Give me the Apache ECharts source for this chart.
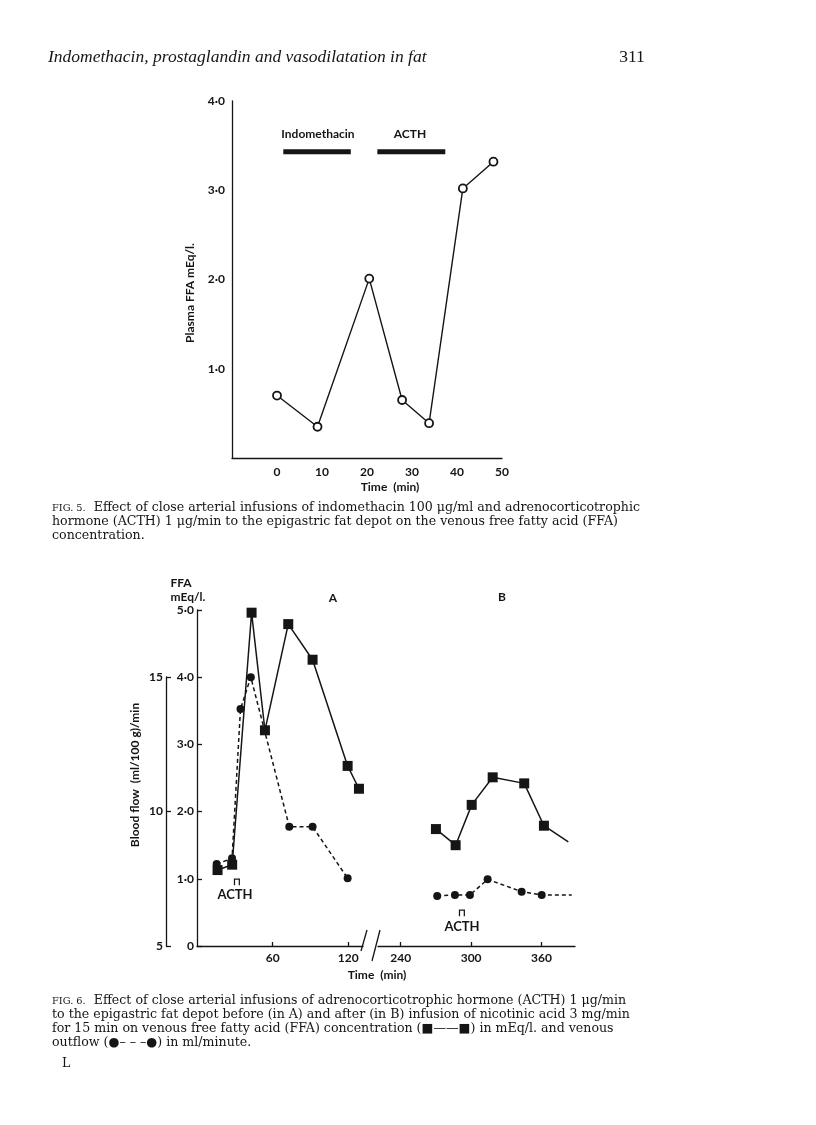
<!DOCTYPE html>
<html>
<head>
<meta charset="utf-8">
<title>Indomethacin, prostaglandin and vasodilatation in fat</title>
<script src="https://cdn.jsdelivr.net/npm/echarts@6/dist/echarts.min.js"></script>
<style>
  html, body { margin: 0; padding: 0; background: #fff; }
  #main { width: 816px; height: 1125px; }
</style>
</head>
<body>
<div id="main"></div>
<script>
// Fig. 5 - plasma FFA (mEq/l.) against time (min)
var fig5Time = [0, 9, 20.5, 27.8, 33.8, 41.3, 48.1];
var fig5FFA = [0.70, 0.35, 2.01, 0.65, 0.39, 3.02, 3.32];
var fig5XTicks = [0, 10, 20, 30, 40, 50];
var fig5YTicks = [1, 2, 3, 4];
// infusion periods, drawn as thick bars
var indoPeriod = [1.4, 16.4];
var acthPeriod = [22.3, 37.4];
var barLevel = 3.43;

// Fig. 6 A - before nicotinic acid
var aSqTime = [16.3, 27.9, 43.3, 53.9, 72.4, 91.7, 119.5, 128.5];
var aFFA = [1.13, 1.21, 4.96, 3.21, 4.79, 4.26, 2.68, 2.34];
var aDotTime = [15.6, 27.8, 34.5, 42.7, 73.2, 91.7, 119.5];
var aFlow = [8.05, 8.26, 13.82, 15.0, 9.44, 9.44, 7.52];
// Fig. 6 B - after nicotinic acid (last value of each trace has no marker)
var bSqTime = [270.0, 286.8, 300.5, 318.4, 345.3, 362.1, 382.9];
var bFFA = [1.74, 1.50, 2.10, 2.51, 2.42, 1.79, 1.55];
var bDotTime = [271.1, 286.2, 299.0, 314.1, 343.1, 360.2, 385.8];
var bFlow = [6.86, 6.90, 6.90, 7.48, 7.02, 6.90, 6.90];
var aXTicks = [60, 120];
var bXTicks = [240, 300, 360];
var flowTicks = [5, 10, 15];

var ink = '#151515';
var sans = 'Lato';
var serif = '"Liberation Serif"';

function pairs(xs, ys, bareLast) {
  return xs.map(function (x, i) {
    if (bareLast && i === xs.length - 1) return { value: [x, ys[i]], symbol: 'none' };
    return [x, ys[i]];
  });
}
function dot(v) {
  return v === 0 ? '0' : v.toFixed(1).replace('.', '·');
}
function txt(x, y, s, size, extra) {
  var o = {
    type: 'text', x: x, y: y, silent: true,
    style: { text: s, fill: ink, font: 'bold ' + size + 'px ' + sans, textAlign: 'center', textVerticalAlign: 'middle' }
  };
  if (extra) for (var k in extra) o[k] = extra[k];
  return o;
}
// caption lines
function cap(x, y, s) {
  return {
    type: 'text', x: x, y: y, silent: true,
    style: {
      text: s, fill: ink, font: '12.6px "DejaVu Serif"', textVerticalAlign: 'middle',
      rich: { sc: { fontSize: 9.8, fontFamily: 'DejaVu Serif' } }
    }
  };
}

var axisLine = { show: true, onZero: false, lineStyle: { color: ink, width: 1.3 } };
var tickLbl = { color: ink, fontFamily: sans, fontWeight: 'bold', fontSize: 12 };

var myChart = echarts.init(document.getElementById('main'));
myChart.setOption({
  backgroundColor: '#fff',
  animation: false,
  grid: [
    { left: 232, top: 101, width: 270, height: 357 },
    { left: 197, top: 610, width: 166, height: 336 },
    { left: 378, top: 610, width: 197, height: 336 },
    { left: 166, top: 677, width: 1, height: 269 }
  ],
  xAxis: [
    { gridIndex: 0, type: 'value', min: -10, max: 50, axisLine: axisLine, axisTick: { show: false },
      axisLabel: Object.assign({ customValues: fig5XTicks, margin: 8 }, tickLbl), splitLine: { show: false } },
    { gridIndex: 1, type: 'value', min: 0, max: 131.7, axisLine: axisLine,
      axisTick: { inside: true, length: 4, customValues: aXTicks, lineStyle: { color: ink, width: 1.3 } },
      axisLabel: Object.assign({ customValues: aXTicks, margin: 6 }, tickLbl), splitLine: { show: false } },
    { gridIndex: 2, type: 'value', min: 220.6, max: 388.6, axisLine: axisLine,
      axisTick: { inside: true, length: 4, customValues: bXTicks, lineStyle: { color: ink, width: 1.3 } },
      axisLabel: Object.assign({ customValues: bXTicks, margin: 6 }, tickLbl), splitLine: { show: false } },
    { gridIndex: 3, type: 'value', min: 0, max: 1, show: false }
  ],
  yAxis: [
    { gridIndex: 0, type: 'value', min: 0, max: 4, axisLine: axisLine, axisTick: { show: false },
      axisLabel: Object.assign({ customValues: fig5YTicks, formatter: dot, margin: 7 }, tickLbl), splitLine: { show: false } },
    { gridIndex: 1, type: 'value', min: 0, max: 5, interval: 1, axisLine: axisLine,
      axisTick: { inside: true, length: 5, lineStyle: { color: ink, width: 1.3 } },
      axisLabel: Object.assign({ formatter: dot, margin: 3 }, tickLbl), splitLine: { show: false } },
    { gridIndex: 1, type: 'value', min: 5, max: 17.5, show: false },
    { gridIndex: 2, type: 'value', min: 0, max: 5, show: false },
    { gridIndex: 2, type: 'value', min: 5, max: 17.5, show: false },
    { gridIndex: 3, type: 'value', min: 5, max: 15, interval: 5, axisLine: axisLine,
      axisTick: { inside: true, length: 5, lineStyle: { color: ink, width: 1.3 } },
      axisLabel: Object.assign({ customValues: flowTicks, margin: 3 }, tickLbl), splitLine: { show: false } }
  ],
  series: [
    {
      name: 'Plasma FFA', type: 'line', xAxisIndex: 0, yAxisIndex: 0,
      data: pairs(fig5Time, fig5FFA), symbol: 'circle', symbolSize: 8,
      itemStyle: { color: '#fff', borderColor: ink, borderWidth: 1.8 },
      lineStyle: { color: ink, width: 1.4 }, z: 3
    },
    {
      name: 'Indomethacin', type: 'line', xAxisIndex: 0, yAxisIndex: 0, symbol: 'none',
      data: indoPeriod.map(function (t) { return [t, barLevel]; }),
      lineStyle: { color: ink, width: 5, cap: 'butt' }
    },
    {
      name: 'ACTH', type: 'line', xAxisIndex: 0, yAxisIndex: 0, symbol: 'none',
      data: acthPeriod.map(function (t) { return [t, barLevel]; }),
      lineStyle: { color: ink, width: 5, cap: 'butt' }
    },
    {
      name: 'FFA A', type: 'line', xAxisIndex: 1, yAxisIndex: 1, clip: false,
      data: pairs(aSqTime, aFFA), symbol: 'rect', symbolSize: 10,
      itemStyle: { color: ink }, lineStyle: { color: ink, width: 1.5 }
    },
    {
      name: 'Blood flow A', type: 'line', xAxisIndex: 1, yAxisIndex: 2, clip: false,
      data: pairs(aDotTime, aFlow), symbol: 'circle', symbolSize: 8,
      itemStyle: { color: ink }, lineStyle: { color: ink, width: 1.5, type: [4, 3] }
    },
    {
      name: 'FFA B', type: 'line', xAxisIndex: 2, yAxisIndex: 3, clip: false,
      data: pairs(bSqTime, bFFA, true), symbol: 'rect', symbolSize: 10,
      itemStyle: { color: ink }, lineStyle: { color: ink, width: 1.5 }
    },
    {
      name: 'Blood flow B', type: 'line', xAxisIndex: 2, yAxisIndex: 4, clip: false,
      data: pairs(bDotTime, bFlow, true), symbol: 'circle', symbolSize: 8,
      itemStyle: { color: ink }, lineStyle: { color: ink, width: 1.5, type: [4, 3] }
    }
  ],
  graphic: [
    // running head
    { type: 'text', x: 48, y: 57, silent: true,
      style: { text: 'Indomethacin, prostaglandin and vasodilatation in fat', fill: ink,
        font: 'italic 17.5px ' + serif, textVerticalAlign: 'middle' } },
    { type: 'text', x: 632, y: 57, silent: true,
      style: { text: '311', fill: ink, font: '17.5px ' + serif, textAlign: 'center', textVerticalAlign: 'middle' } },

    // Fig. 5 labels
    txt(318, 134, 'Indomethacin', 12),
    txt(410, 134, 'ACTH', 12),
    txt(190, 293, 'Plasma FFA mEq/l.', 12, { rotation: Math.PI / 2 }),
    txt(390, 487, 'Time  (min)', 12),
    cap(52, 508, '{sc|FIG. 5.}  Effect of close arterial infusions of indomethacin 100 μg/ml and adrenocorticotrophic'),
    cap(52, 522, 'hormone (ACTH) 1 μg/min to the epigastric fat depot on the venous free fatty acid (FFA)'),
    cap(52, 536, 'concentration.'),

    // Fig. 6 labels
    txt(181, 583, 'FFA', 12),
    txt(188, 597, 'mEq/l.', 12),
    txt(333, 598, 'A', 12),
    txt(502, 597, 'B', 12),
    txt(237, 882, '⊓', 10),
    txt(235, 895, 'ACTH', 13),
    txt(462, 913, '⊓', 10),
    txt(462, 927, 'ACTH', 13),
    txt(135, 775, 'Blood flow  (ml/100 g)/min', 12, { rotation: Math.PI / 2 }),
    txt(377, 975, 'Time  (min)', 12),
    // axis break marks
    { type: 'line', silent: true, shape: { x1: 361, y1: 951, x2: 367, y2: 930 }, style: { stroke: ink, lineWidth: 1.3 } },
    { type: 'line', silent: true, shape: { x1: 372, y1: 961, x2: 380, y2: 930 }, style: { stroke: ink, lineWidth: 1.3 } },
    cap(52, 1001, '{sc|FIG. 6.}  Effect of close arterial infusions of adrenocorticotrophic hormone (ACTH) 1 μg/min'),
    cap(52, 1015, 'to the epigastric fat depot before (in A) and after (in B) infusion of nicotinic acid 3 mg/min'),
    cap(52, 1029, 'for 15 min on venous free fatty acid (FFA) concentration (■——■) in mEq/l. and venous'),
    cap(52, 1043, 'outflow (●– – –●) in ml/minute.'),
    cap(62, 1064, 'L')
  ]
});
</script>
</body>
</html>
